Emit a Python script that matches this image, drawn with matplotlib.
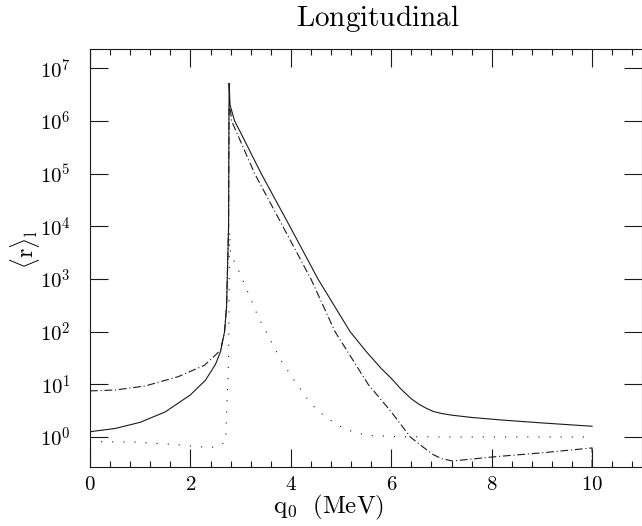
import matplotlib
matplotlib.use("Agg")
from matplotlib import pyplot as plt
from matplotlib.ticker import FixedLocator, MultipleLocator, NullLocator
import numpy as np

plt.rcParams["mathtext.fontset"] = "cm"

# solid curve
solid_q0 = [0, 0.5, 1.0, 1.5, 2.0, 2.3, 2.5, 2.6, 2.68, 2.72, 2.76, 2.77,
            2.79, 2.88, 3.0, 3.41, 3.98, 4.54, 5.18, 5.5, 5.8, 6.0, 6.2,
            6.4, 6.55, 6.7, 6.84, 7.0, 7.2, 7.6, 8.2, 9.0, 10.0]
solid_r = [1.26, 1.45, 1.9, 3.0, 6.3, 12, 24, 42, 100, 300, 1e4, 5.2e6,
           2.0e6, 1.0e6, 6.0e5, 1.0e5, 1.0e4, 1.0e3, 100, 42, 20, 13, 8.0,
           5.3, 4.2, 3.5, 3.05, 2.8, 2.6, 2.35, 2.1, 1.85, 1.6]

# dash-dot curve
dashdot_q0 = [0, 0.5, 1.1, 1.76, 2.28, 2.5, 2.6, 2.68, 2.72, 2.76, 2.77,
              2.8, 2.82, 3.28, 3.84, 4.40, 4.88, 5.54, 6.0, 6.38, 6.6, 6.84,
              7.0, 7.22, 8.04, 9.0, 10.0, 10.0]
dashdot_r = [7.5, 7.8, 9.3, 14, 23, 36, 45, 100, 300, 1e4, 2.0e6, 1.5e6,
             1.0e6, 1.0e5, 1.0e4, 1.0e3, 100, 10, 3.0, 1.0, 0.68, 0.46,
             0.39, 0.35, 0.42, 0.5, 0.62, 0.1]

# dotted curve
dotted_q0 = [0, 0.9, 1.4, 1.9, 2.2, 2.5, 2.7, 2.76, 2.78, 2.8, 3.0, 3.35,
             3.81, 4.05, 4.31, 4.53, 4.72, 5.08, 5.5, 6.0, 7.0, 10.0]
dotted_r = [0.82, 0.80, 0.75, 0.69, 0.65, 0.64, 0.8, 30, 8000, 3000, 1200,
            190, 28, 12.6, 5.6, 3.2, 2.3, 1.4, 1.08, 1.02, 1.0, 1.0]

decades = [0, 1, 2, 3, 4, 5, 6, 7]
xticks = [0, 2, 4, 6, 8, 10]

fig = plt.figure(figsize=(6.42, 5.26), dpi=100)
ax = fig.add_axes([90 / 642, 1 - 466.7 / 526, 552.3 / 642, (466.7 - 49) / 526])

lc = "#1a1a1a"
ax.plot(solid_q0, solid_r, color=lc, lw=0.8)
ax.plot(dashdot_q0, dashdot_r, color=lc, lw=0.8, linestyle=(0, (7, 2.5, 1, 2.5)))
ax.plot(dotted_q0, dotted_r, color=lc, lw=0.8, linestyle=(0, (1, 9)))

ax.set_yscale("log")
ax.set_xlim(0, 11)
ax.set_ylim(10 ** -0.564, 10 ** 7.366)

ax.yaxis.set_major_locator(FixedLocator([10.0 ** d for d in decades]))
ax.yaxis.set_minor_locator(NullLocator())
ax.set_yticklabels([r"$10^{%d}$" % d for d in decades], fontsize=15)
ax.xaxis.set_major_locator(FixedLocator(xticks))
ax.xaxis.set_minor_locator(MultipleLocator(0.4))
ax.set_xticklabels([r"$\mathrm{%d}$" % v for v in xticks], fontsize=15)

ax.tick_params(which="major", direction="in", length=13, width=0.8,
               top=True, right=True, color=lc)
ax.tick_params(which="minor", direction="in", length=4.3, width=0.8,
               top=True, right=True, color=lc)
ax.tick_params(axis="y", pad=14)
ax.tick_params(axis="x", pad=5)
for s in ax.spines.values():
    s.set_linewidth(0.8)
    s.set_color(lc)

fig.text(378 / 642, 1 - 18 / 526, r"$\mathrm{Longitudinal}$", fontsize=21,
         ha="center", va="center")
fig.text(329 / 642, 1 - 507 / 526, r"$\mathrm{q_0\ \ (MeV)}$", fontsize=18,
         ha="center", va="center")
fig.text(25 / 642, 1 - 250 / 526, r"$\langle\mathrm{r}\rangle_\mathrm{l}$",
         fontsize=17, rotation=90, ha="center", va="center")

fig.savefig("out.png", dpi=100)
